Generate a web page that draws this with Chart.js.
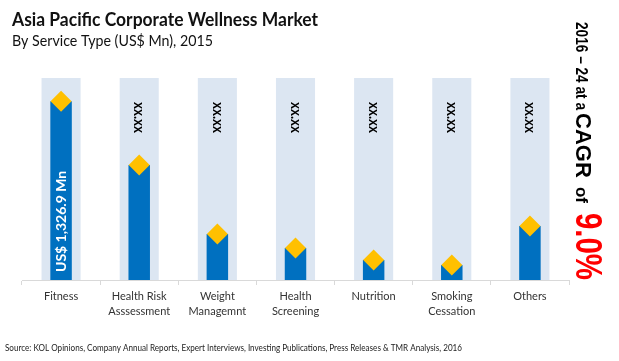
<!DOCTYPE html>
<html>
<head>
<meta charset="utf-8">
<script src="https://cdn.jsdelivr.net/npm/chart.js@4"></script>
<style>
  html, body { margin: 0; padding: 0; background: #fff; }
  #wrap { position: relative; width: 619px; height: 361px; }
</style>
</head>
<body>
<div id="wrap"><canvas id="chart" width="619" height="361"></canvas></div>
<script>
// chart data
const categories = [['Fitness'], ['Health Risk', 'Asssessment'], ['Weight', 'Managemnt'], ['Health', 'Screening'], ['Nutrition'], ['Smoking', 'Cessation'], ['Others']];
const values = [1326.9, 854, 342, 238, 149, 111, 401];
const bandMax = 1500;
const bandValues = [1500, 1500, 1500, 1500, 1500, 1500, 1500];
const barLabels = ['US$ 1,326.9 Mn', '', '', '', '', '', ''];
const bandLabels = ['', 'xx.xx', 'xx.xx', 'xx.xx', 'xx.xx', 'xx.xx', 'xx.xx'];
const title = 'Asia Pacific Corporate Wellness Market';
const subtitle = 'By Service Type (US$ Mn), 2015';
const source = 'Source: KOL Opinions, Company Annual Reports, Expert Interviews, Investing Publications, Press Releases & TMR Analysis, 2016';
const cagrParts = ['2016 – 24 at a', 'CAGR', 'of', '9.0%'];

const sans = '"Liberation Sans", Arial, sans-serif';

const textPlugin = {
  id: 'texts',
  afterDatasetsDraw(chart) {
    const ctx = chart.ctx;
    ctx.save();
    ctx.textBaseline = 'alphabetic';
    ctx.textAlign = 'left';
    ctx.fillStyle = '#111';
    ctx.font = 'bold 19px Lato';
    ctx.fillText(title, 12, 26, 306);
    ctx.font = '14.5px Lato';
    ctx.fillText(subtitle, 12, 46, 201);
    ctx.font = '10px Lato';
    ctx.fillStyle = '#222';
    ctx.fillText(source, 5, 351, 457);

    // labels inside bars and bands
    const barMeta = chart.getDatasetMeta(1);
    barMeta.data.forEach((bar, i) => {
      if (barLabels[i]) {
        ctx.save();
        ctx.translate(bar.x, chart.chartArea.bottom - 8);
        ctx.rotate(-Math.PI / 2);
        ctx.font = 'bold 14px Lato';
        ctx.fillStyle = '#fff';
        ctx.textBaseline = 'middle';
        ctx.fillText(barLabels[i], 0, 0);
        ctx.restore();
      }
      if (bandLabels[i]) {
        ctx.save();
        ctx.translate(bar.x, chart.chartArea.top + 24);
        ctx.rotate(Math.PI / 2);
        ctx.font = 'bold 15px Lato';
        ctx.fillStyle = '#000';
        ctx.textBaseline = 'middle';
        ctx.fillText(bandLabels[i], 0, 0, 31);
        ctx.restore();
      }
    });

    // CAGR note on the right
    ctx.save();
    ctx.translate(576, 0);
    ctx.rotate(Math.PI / 2);
    ctx.fillStyle = '#000';
    ctx.font = 'bold 17px ' + sans;
    ctx.fillText(cagrParts[0], 22, 0, 88);
    ctx.font = 'bold 22px ' + sans;
    ctx.fillText(cagrParts[1], 113, 0, 69);
    ctx.font = 'bold 17px ' + sans;
    ctx.fillText(cagrParts[2], 187, 0, 16);
    ctx.fillStyle = '#ff0000';
    ctx.font = 'bold 37px ' + sans;
    ctx.fillText(cagrParts[3], 213, 0, 67);
    ctx.restore();

    ctx.restore();
  }
};

new Chart(document.getElementById('chart'), {
  type: 'bar',
  data: {
    labels: categories,
    datasets: [
      {
        label: 'band',
        data: bandValues,
        backgroundColor: '#DCE6F2',
        barPercentage: 0.5,
        categoryPercentage: 1,
        grouped: false,
        order: 3
      },
      {
        label: 'value',
        data: values,
        backgroundColor: '#0070C0',
        barPercentage: 0.275,
        categoryPercentage: 1,
        grouped: false,
        order: 2
      },
      {
        type: 'line',
        label: 'marker',
        data: values,
        showLine: false,
        pointStyle: 'rectRot',
        pointRadius: 10.5,
        pointBackgroundColor: '#FFC000',
        pointBorderWidth: 0,
        order: 1
      }
    ]
  },
  options: {
    responsive: false,
    animation: false,
    layout: { padding: { left: 22, right: 50, top: 78, bottom: 0 } },
    plugins: {
      legend: { display: false },
      tooltip: { enabled: false }
    },
    scales: {
      x: {
        offset: true,
        grid: { drawOnChartArea: false, tickLength: 5, color: '#D9D9D9', offset: true },
        border: { color: '#D9D9D9' },
        ticks: {
          color: '#333',
          padding: 3,
          maxRotation: 0,
          autoSkip: false,
          font: { family: 'Lato', size: 11, lineHeight: 1.45 }
        },
        afterFit(scale) { scale.height = 81; }
      },
      y: {
        display: false,
        min: 0,
        max: bandMax
      }
    }
  },
  plugins: [textPlugin]
});
</script>
</body>
</html>
